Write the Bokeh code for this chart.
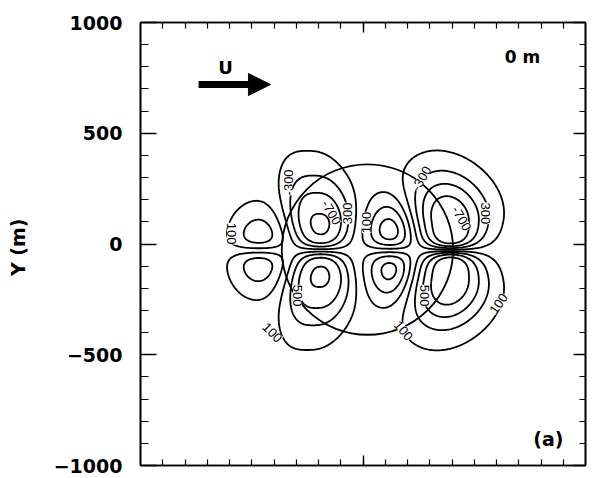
import numpy as np
from bokeh.plotting import figure
from bokeh.models import Range1d, FixedTicker, LinearAxis, Arrow, NormalHead, Label
from bokeh.embed import file_html
from bokeh.resources import INLINE
from bokeh.core.properties import value

# ---------------- data ----------------
x_start, x_end = -1000, 1000
y_start, y_end = -1000, 1000
y_major_ticks = [-1000, -500, 0, 500, 1000]
x_major_ticks = [0]
minor_ticks = list(range(-900, 1000, 100))

levels = [-700, -500, -300, -100, 100, 300, 500, 700]

# lobes of the field (centre x in m, sign of upper half, peaks, widths ...)
lobe_x = [-468, -191, 125, 393]
lobe_sign = [1, -1, 1, -1]
lobe_peak_up = [470, 740, 690, 900]
lobe_peak_dn = [470, 740, 650, 900]
lobe_width = [120, 150, 108, 178]
lobe_shape = [2.0, 2.6, 2.0, 2.0]
lobe_plateau = [40, 110, 70, 140]
lobe_decay = [150, 240, 160, 210]
lobe_rise = [45, 40, 50, 30]
lobe_pinch = [1000, 110, 1000, 120]
lobe_lean = [0.0, 0.12, 0.0, 0.12]
pattern_y = -29

# obstacle outline
circle_x = [20]
circle_y = [-25]
circle_d = [770]

# contour labels
label_text = ["100", "-300", "-700", "300", "100", "-300", "-700", "300",
              "500", "100", "500", "100", "100"]
label_x = [-591, -335, -142, -70, 16, 263, 443, 551, -294, -407, 276, 182, 609]
label_y = [47, 278, 142, 138, 97, 296, 115, 138, -233, -400, -233, -391, -269]
label_angle_deg = [-90, 90, -60, 90, 90, 60, -60, -90, -90, -45, -90, -50, 55]

# annotations
arrow_x = [-739, -416]
arrow_y = 720
u_pos = (-618, 797)
depth_pos = (717, 842)
panel_pos = (833, -880)

# ---------------- field ----------------
gx = np.linspace(x_start, x_end, 401)
gy = np.linspace(y_start, y_end, 401)
X, Y = np.meshgrid(gx, gy)
Z = np.zeros_like(X)
dy = Y - pattern_y
ady = np.abs(dy)
for xc, sg, pu, pd, w, sh, h, v, d0, wr, ln in zip(
        lobe_x, lobe_sign, lobe_peak_up, lobe_peak_dn, lobe_width, lobe_shape,
        lobe_plateau, lobe_decay, lobe_rise, lobe_pinch, lobe_lean):
    dx = X - (xc - ln * ady ** 2 / 400.0)
    bump = np.exp(-(np.abs(dx) / w) ** sh)
    rise = d0 * (1 + ((X - xc) / wr) ** 2)
    prof = np.tanh(ady / rise) * np.exp(-(np.maximum(ady - h, 0) / v) ** 2)
    amp = np.where(dy >= 0, pu, -pd)
    Z += sg * amp * bump * prof

# ---------------- figure ----------------
p = figure(width=596, height=478, x_range=Range1d(x_start, x_end),
           y_range=Range1d(y_start, y_end), output_backend="svg",
           toolbar_location=None, min_border_left=140, min_border_right=11,
           min_border_top=22, min_border_bottom=13,
           x_axis_location=None, y_axis_location=None)
p.background_fill_color = "white"
p.border_fill_color = "white"
p.outline_line_color = "black"
p.outline_line_width = 1.6
p.xgrid.visible = False
p.ygrid.visible = False

FONT = "DejaVu Sans"

def style_axis(ax, tin, mtin, labels):
    ax.axis_line_color = "black"
    ax.axis_line_width = 1.6
    ax.major_tick_line_color = "black"
    ax.minor_tick_line_color = "black"
    ax.major_tick_line_width = 1.4
    ax.minor_tick_line_width = 1.2
    ax.major_tick_in = tin
    ax.major_tick_out = 0
    ax.minor_tick_in = mtin
    ax.minor_tick_out = 0
    if not labels:
        ax.major_label_text_font_size = "1px"
        ax.major_label_text_color = None
        ax.major_label_standoff = 0

left = LinearAxis(ticker=FixedTicker(ticks=y_major_ticks, minor_ticks=minor_ticks))
style_axis(left, 16, 8, True)
left.major_label_text_font = FONT
left.major_label_text_font_style = "bold"
left.major_label_text_font_size = "19px"
left.major_label_text_color = "black"
left.major_label_standoff = 18
left.axis_label = "Y  (m)"
left.axis_label_text_font = FONT
left.axis_label_text_font_style = "bold"
left.axis_label_text_font_size = "19px"
left.axis_label_text_color = "black"
left.axis_label_standoff = 22
p.add_layout(left, "left")

right = LinearAxis(ticker=FixedTicker(ticks=y_major_ticks, minor_ticks=minor_ticks))
style_axis(right, 12, 6, False)
p.add_layout(right, "right")

bottom = LinearAxis(ticker=FixedTicker(ticks=x_major_ticks, minor_ticks=minor_ticks))
style_axis(bottom, 10, 6, False)
p.add_layout(bottom, "below")

top = LinearAxis(ticker=FixedTicker(ticks=x_major_ticks, minor_ticks=minor_ticks))
style_axis(top, 10, 6, False)
p.add_layout(top, "above")

# contours
p.contour(gx, gy, Z, levels, line_color="black", line_width=1.8)

# obstacle circle
p.ellipse(x=circle_x, y=circle_y, width=circle_d, height=circle_d,
          fill_color=None, line_color="black", line_width=1.8)

# contour labels
p.text(x=label_x, y=label_y, text=label_text,
       angle=[np.deg2rad(a) for a in label_angle_deg],
       text_font=value("Liberation Sans"), text_font_size="13px",
       text_align="center", text_baseline="middle", text_color="black",
       background_fill_color="white")

# flow arrow and texts
p.add_layout(Arrow(x_start=arrow_x[0], y_start=arrow_y, x_end=arrow_x[1], y_end=arrow_y,
                   line_width=7, line_color="black",
                   end=NormalHead(size=22, fill_color="black", line_color="black")))
for pos, txt, size in [(u_pos, "U", "18px"), (depth_pos, "0 m", "17px"), (panel_pos, "(a)", "19px")]:
    p.add_layout(Label(x=pos[0], y=pos[1], text=txt, text_font=FONT,
                       text_font_style="bold", text_font_size=size, text_color="black",
                       text_align="center", text_baseline="middle"))

open("out.html", "w").write(file_html(p, INLINE))
